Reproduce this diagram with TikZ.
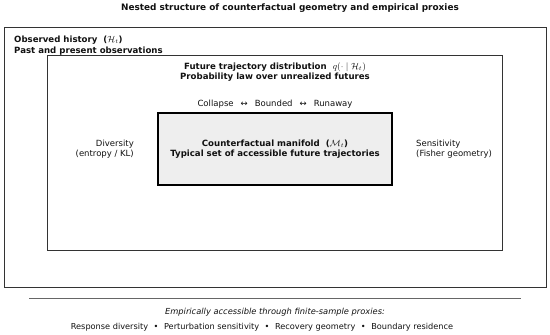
\documentclass[tikz,border=0pt]{standalone}
\usepackage{fontspec}
\setmainfont{DejaVu Sans}
\usetikzlibrary{positioning}
\definecolor{cink}{HTML}{111111}
\definecolor{cframe}{HTML}{333333}
\definecolor{cfill}{HTML}{EEEEEE}
\definecolor{crule}{HTML}{666666}
\tikzset{
  txt/.style={font=\fontsize{8.5}{10.4}\selectfont, text=cink, inner sep=0pt},
  hdr/.style={txt, font=\fontsize{8.6}{10.4}\selectfont\bfseries},
  frame/.style={draw=cframe, line width=0.8pt},
}
\begin{document}
\begin{tikzpicture}[x=1pt, y=-1pt]
      \useasboundingbox (0,0) rectangle (550,335);
      \node[hdr, font=\fontsize{8.9}{10.4}\selectfont\bfseries] (title) at (290,8) {Nested structure of counterfactual geometry and empirical proxies};
      % nested frames
      \draw[frame] (4,27) rectangle (546,287);
      \draw[frame] (47,55) rectangle (502,250);
      \node[hdr, anchor=north west, align=left] (history) at (14,36) {Observed history \ ($\mathcal{H}_t$)\\Past and present observations};
      \node[hdr, align=center] (future) at (275,72) {Future trajectory distribution \ $q(\cdot\mid\mathcal{H}_t)$\\Probability law over unrealized futures};
      \node[txt] (regimes) at (275,104) {Collapse\hspace{7pt}↔\hspace{7pt}Bounded\hspace{7pt}↔\hspace{7pt}Runaway};
      \node[hdr, align=center, draw=black, line width=1.3pt, fill=cfill, minimum width=234pt, minimum height=72pt] (manifold) at (275,149) {Counterfactual manifold \ ($\mathcal{M}_t$)\\Typical set of accessible future trajectories};
      % measures either side of the manifold
      \node[txt, anchor=east, align=right] (diversity) at (134,149) {Diversity\\(entropy / KL)};
      \node[txt, anchor=west, align=left] (sensitivity) at (416,149) {Sensitivity\\(Fisher geometry)};
      % empirical proxies below
      \coordinate (ruleL) at (29,298);
      \coordinate (ruleR) at (521,298);
      \draw[crule, line width=0.8pt] (ruleL) -- (ruleR);
      \node[txt, font=\fontsize{8.3}{10.4}\selectfont\itshape] (access) at (275,312) {Empirically accessible through finite-sample proxies:};
      \node[txt, font=\fontsize{8.2}{10.4}\selectfont] (proxies) at (262,327) {Response diversity\hspace{5.5pt}•\hspace{5.5pt}Perturbation sensitivity\hspace{5.5pt}•\hspace{5.5pt}Recovery geometry\hspace{5.5pt}•\hspace{5.5pt}Boundary residence};
    \end{tikzpicture}
\end{document}
